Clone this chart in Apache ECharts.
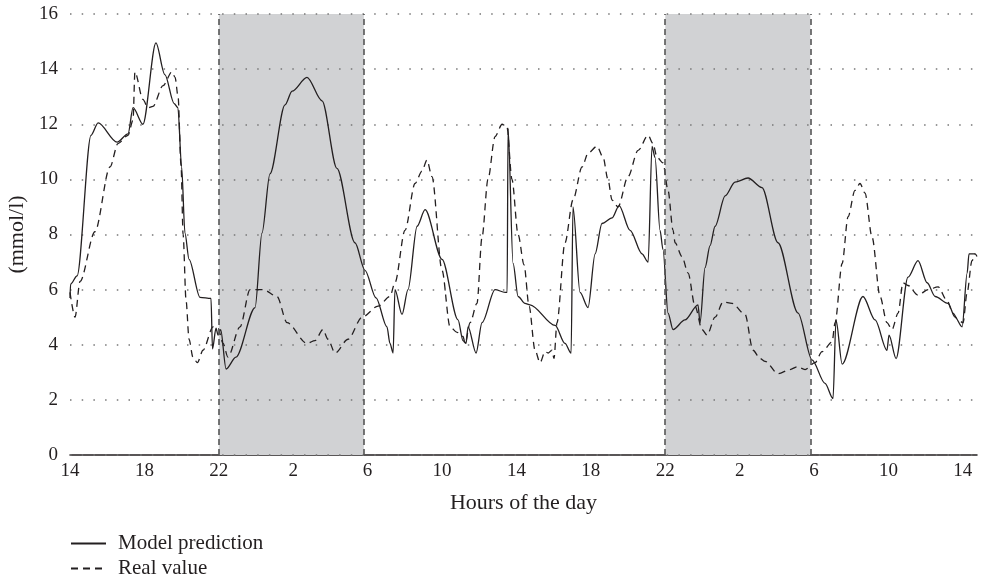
<!DOCTYPE html>
<html>
<head>
<meta charset="utf-8">
<script src="https://cdn.jsdelivr.net/npm/echarts@6/dist/echarts.min.js"></script>
<style>
  html, body { margin: 0; padding: 0; background: #fff; }
  #chart { width: 988px; height: 580px; }
</style>
</head>
<body>
<div id="chart"></div>
<script>
// hours since 14:00 of the first day, glucose in mmol/l
const predHours = [0, 0.03, 0.38, 1.13, 1.51, 2.53, 3.12, 3.39, 3.92, 4.62, 5.1, 5.6, 5.8, 6.0, 6.18, 6.4, 6.99, 7.58, 7.66, 7.85, 7.96, 8.1, 8.39, 8.92, 9.95, 10.32, 10.75, 11.56, 11.94, 12.74, 13.55, 14.35, 15.32, 15.86, 16.45, 17.04, 17.2, 17.37, 17.47, 17.85, 18.17, 18.66, 19.09, 20.0, 20.86, 21.13, 21.29, 21.4, 21.83, 22.15, 22.85, 23.39, 23.5, 23.55, 23.82, 24.09, 24.46, 24.73, 26.08, 26.61, 26.94, 27.04, 27.42, 27.85, 28.23, 28.6, 29.14, 29.52, 30.11, 30.75, 31.08, 31.29, 31.45, 31.72, 31.88, 32.15, 32.42, 33.06, 33.76, 33.87, 34.14, 34.41, 34.68, 35.22, 35.75, 36.45, 37.2, 38.06, 39.14, 39.89, 40.59, 41.02, 41.18, 41.51, 42.63, 43.28, 43.92, 44.03, 44.41, 45.05, 45.59, 46.08, 46.51, 47.2, 47.58, 47.96, 48.23, 48.33, 48.66, 48.76];
const predValues = [5.7, 6.2, 6.5, 11.6, 12.05, 11.35, 11.65, 12.6, 12.0, 14.95, 13.8, 12.75, 12.6, 10.45, 8.05, 7.1, 5.72, 5.68, 3.85, 4.6, 4.35, 4.55, 3.12, 3.55, 5.35, 8.05, 10.2, 12.7, 13.2, 13.7, 12.85, 10.4, 7.7, 6.7, 5.7, 4.65, 4.05, 3.7, 6.0, 5.1, 6.0, 8.3, 8.9, 7.1, 4.9, 4.15, 4.05, 4.65, 3.7, 4.8, 6.0, 5.9, 5.9, 11.85, 6.95, 5.75, 5.5, 5.45, 4.7, 4.05, 3.7, 9.0, 5.9, 5.35, 7.3, 8.4, 8.6, 9.05, 8.15, 7.3, 7.0, 11.2, 10.8, 8.15, 7.45, 5.15, 4.55, 4.9, 5.45, 4.8, 6.8, 7.6, 8.3, 9.4, 9.9, 10.05, 9.7, 7.7, 5.15, 3.45, 2.6, 2.05, 4.9, 3.3, 5.75, 4.9, 3.8, 4.35, 3.5, 6.45, 7.05, 6.25, 5.75, 5.5, 5.0, 4.65, 6.6, 7.3, 7.3, 7.2];

const realHours = [0, 0.27, 0.54, 1.34, 2.15, 2.58, 3.12, 3.39, 3.49, 3.92, 4.19, 4.46, 5.0, 5.48, 5.65, 5.81, 5.97, 6.08, 6.24, 6.4, 6.61, 6.85, 7.15, 7.69, 7.96, 8.23, 8.49, 9.14, 9.68, 10.38, 11.13, 11.67, 12.74, 13.17, 13.6, 13.87, 14.25, 14.95, 15.7, 16.56, 17.2, 17.47, 18.01, 18.55, 18.92, 19.19, 19.46, 20.0, 20.43, 20.81, 21.13, 21.24, 21.51, 21.88, 22.15, 22.47, 22.85, 23.23, 23.49, 23.76, 24.09, 24.41, 24.68, 25.0, 25.27, 25.54, 25.7, 25.91, 26.02, 26.18, 26.61, 27.04, 27.53, 27.85, 28.33, 28.66, 28.92, 29.14, 29.46, 30.0, 30.54, 31.08, 31.34, 31.56, 31.88, 32.15, 32.42, 32.53, 32.9, 33.23, 33.6, 33.98, 34.25, 34.68, 35.11, 35.59, 36.29, 36.72, 37.1, 37.37, 38.06, 38.71, 39.09, 39.52, 40.05, 40.43, 40.97, 41.13, 41.51, 41.83, 42.2, 42.47, 42.74, 43.12, 43.55, 43.92, 44.19, 44.52, 44.78, 45.05, 45.59, 46.13, 46.67, 47.15, 47.47, 47.74, 48.01, 48.23, 48.49, 48.66];
const realValues = [5.9, 5.0, 6.3, 8.1, 10.45, 11.3, 11.6, 12.15, 13.9, 12.9, 12.6, 12.65, 13.4, 13.9, 13.7, 13.0, 10.5, 8.0, 5.6, 4.2, 3.55, 3.35, 3.8, 4.65, 4.6, 4.05, 3.55, 4.65, 6.0, 6.0, 5.75, 4.8, 4.05, 4.15, 4.55, 4.2, 3.7, 4.2, 5.0, 5.4, 5.75, 6.25, 8.15, 9.85, 10.3, 10.7, 10.1, 6.7, 4.65, 4.45, 4.3, 4.05, 4.8, 5.5, 7.9, 10.0, 11.55, 12.0, 11.9, 10.0, 8.0, 6.9, 5.4, 3.8, 3.35, 3.75, 3.7, 3.8, 3.5, 4.8, 7.7, 9.25, 10.45, 10.95, 11.2, 10.8, 10.0, 9.25, 9.0, 10.1, 11.05, 11.6, 11.3, 10.8, 10.6, 9.6, 8.15, 7.7, 7.2, 6.6, 5.4, 4.55, 4.35, 5.0, 5.55, 5.5, 5.1, 3.8, 3.5, 3.4, 2.95, 3.1, 3.2, 3.1, 3.35, 3.75, 4.1, 4.8, 6.95, 8.65, 9.6, 9.85, 9.5, 7.9, 5.75, 4.8, 4.55, 5.15, 6.25, 6.15, 5.8, 6.0, 6.1, 5.6, 5.15, 4.9, 4.8, 5.9, 7.05, 7.3];

// night periods, 22:00 to about 6:00
const nightStart = [8, 32];
const nightEnd = [15.8, 39.8];

const ink = '#231f20';
const font = 'Liberation Serif';

const chart = echarts.init(document.getElementById('chart'));

const option = {
    animation: false,
    textStyle: { fontFamily: font, color: ink },
    grid: { left: 70, right: 11, top: 14, bottom: 125, outerBoundsMode: 'none' },
    legend: {
        orient: 'vertical',
        left: 70,
        top: 533,
        padding: 0,
        itemWidth: 35,
        itemHeight: 12,
        itemGap: 4,
        itemStyle: { color: 'transparent', borderWidth: 0 },
        textStyle: { fontFamily: font, fontSize: 21, color: ink, padding: [0, 0, 0, 7] },
        data: ['Model prediction', 'Real value']
    },
    xAxis: {
        type: 'value',
        min: 0,
        max: 48.76,
        interval: 4,
        name: 'Hours of the day',
        nameLocation: 'middle',
        nameGap: 37,
        nameTextStyle: { fontFamily: font, fontSize: 22, color: ink },
        axisLine: { lineStyle: { color: ink, width: 1.5 } },
        axisTick: { show: false },
        splitLine: { show: false },
        axisLabel: {
            fontFamily: font, fontSize: 19, color: ink, margin: 7,
            showMaxLabel: false,
            formatter: v => (v % 4 === 0 ? String((14 + v) % 24) : '')
        }
    },
    yAxis: {
        type: 'value',
        min: 0,
        max: 16,
        interval: 2,
        z: 3,
        name: '(mmol/l)',
        nameLocation: 'middle',
        nameGap: 41,
        nameRotate: 90,
        nameTextStyle: { fontFamily: font, fontSize: 22, color: ink },
        axisLine: { show: false },
        axisTick: { show: false },
        axisLabel: { fontFamily: font, fontSize: 19, color: ink, margin: 12 },
        splitLine: { lineStyle: { color: '#777', width: 1.5, type: [1.5, 10.2] } }
    },
    series: [
        {
            type: 'line',
            data: [],
            z: 1,
            silent: true,
            markArea: {
                silent: true,
                itemStyle: { color: '#d1d2d4' },
                data: nightStart.map((s, i) => [{ xAxis: s }, { xAxis: nightEnd[i] }])
            },
            markLine: {
                silent: true,
                symbol: 'none',
                label: { show: false },
                lineStyle: { color: '#555', width: 1.6, type: [6, 4] },
                data: nightStart.concat(nightEnd).map(v => ({ xAxis: v }))
            }
        },
        {
            name: 'Model prediction',
            type: 'line',
            z: 4,
            data: predHours.map((h, i) => [h, predValues[i]]),
            showSymbol: false,
            symbol: 'none',
            smooth: 0.3,
            smoothMonotone: 'x',
            lineStyle: { color: ink, width: 1.3 },
            itemStyle: { color: ink }
        },
        {
            name: 'Real value',
            type: 'line',
            z: 4,
            data: realHours.map((h, i) => [h, realValues[i]]),
            showSymbol: false,
            symbol: 'none',
            smooth: 0.3,
            smoothMonotone: 'x',
            lineStyle: { color: ink, width: 1.3, type: [7, 5] },
            itemStyle: { color: ink }
        }
    ]
};

chart.setOption(option);
window.addEventListener('resize', () => chart.resize());
</script>
</body>
</html>
